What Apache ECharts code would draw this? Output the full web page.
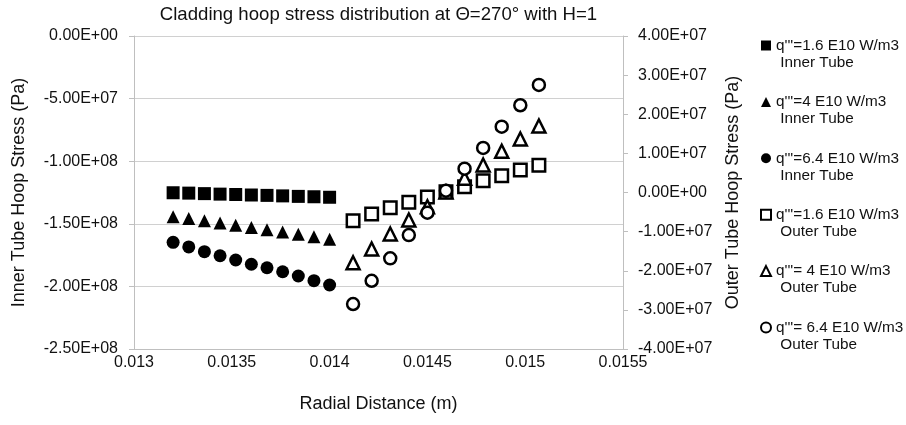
<!DOCTYPE html>
<html>
<head>
<meta charset="utf-8">
<script src="https://cdn.jsdelivr.net/npm/echarts@6/dist/echarts.min.js"></script>
<style>
html,body{margin:0;padding:0;background:#fff;}
#chart{width:906px;height:425px;}
</style>
</head>
<body>
<div id="chart"></div>
<script>
// ---- data ----
const innerX = [0.0132, 0.01328, 0.01336, 0.01344, 0.01352, 0.0136, 0.01368, 0.01376, 0.01384, 0.01392, 0.014];
const outerX = [0.01412, 0.014215, 0.01431, 0.014405, 0.0145, 0.014595, 0.01469, 0.014785, 0.01488, 0.014975, 0.01507];
const inner16 = [-1.252e8, -1.255e8, -1.259e8, -1.263e8, -1.266e8, -1.270e8, -1.273e8, -1.277e8, -1.281e8, -1.284e8, -1.288e8];
const inner4 = [-1.443e8, -1.458e8, -1.475e8, -1.494e8, -1.512e8, -1.530e8, -1.547e8, -1.565e8, -1.584e8, -1.603e8, -1.624e8];
const inner64 = [-1.648e8, -1.685e8, -1.723e8, -1.755e8, -1.789e8, -1.823e8, -1.851e8, -1.883e8, -1.917e8, -1.954e8, -1.989e8];
const outer16 = [-0.72e7, -0.552e7, -0.389e7, -0.251e7, -0.115e7, 0.02e7, 0.148e7, 0.302e7, 0.43e7, 0.575e7, 0.695e7];
const outer4 = [-1.795e7, -1.445e7, -1.06e7, -0.703e7, -0.363e7, 0.013e7, 0.363e7, 0.703e7, 1.054e7, 1.368e7, 1.70e7];
const outer64 = [-2.85e7, -2.256e7, -1.683e7, -1.087e7, -0.517e7, 0.046e7, 0.609e7, 1.138e7, 1.683e7, 2.23e7, 2.749e7];
const seriesNames = [
  "q'''=1.6 E10 W/m3\n Inner Tube",
  "q'''=4 E10 W/m3\n Inner Tube",
  "q'''=6.4 E10 W/m3\n Inner Tube",
  "q'''=1.6 E10 W/m3\n Outer Tube",
  "q'''= 4 E10 W/m3\n Outer Tube",
  "q'''= 6.4 E10 W/m3\n Outer Tube"
];
const titleText = 'Cladding hoop stress distribution at \u0398=270\u00b0 with H=1';
const xName = 'Radial Distance (m)';
const yLeftName = 'Inner Tube Hoop Stress (Pa)';
const yRightName = 'Outer Tube Hoop Stress (Pa)';

const FONT = '"Liberation Sans", Arial, sans-serif';
const TXT = '#111';
const AXIS = '#bfbfbf';

function fmtE(v) {
  const s = Number(v).toExponential(2);
  const parts = s.split('e');
  const n = parseInt(parts[1], 10);
  return parts[0] + 'E' + (n < 0 ? '-' : '+') + String(Math.abs(n)).padStart(2, '0');
}
function pairs(xs, ys) { return xs.map((x, i) => [x, ys[i]]); }

const filled = { color: '#000', opacity: 1 };
const hollow = { color: '#fff', borderColor: '#000', borderWidth: 2.5, opacity: 1 };

const chart = echarts.init(document.getElementById('chart'), null, { renderer: 'canvas' });
chart.setOption({
  animation: false,
  backgroundColor: '#fff',
  textStyle: { fontFamily: FONT },
  title: {
    text: titleText,
    left: 378.5,
    textAlign: 'center',
    top: 5,
    padding: 0,
    textStyle: { fontFamily: FONT, fontSize: 18.6, fontWeight: 'normal', color: TXT }
  },
  grid: { left: 134, right: 283, top: 36, bottom: 76, containLabel: false },
  legend: {
    orient: 'vertical',
    left: 760,
    top: 20,
    padding: 0,
    itemGap: 5.4,
    itemWidth: 10,
    itemHeight: 10,
    data: seriesNames,
    formatter: name => '\n' + name,
    textStyle: { fontFamily: FONT, fontSize: 15.3, lineHeight: 17, color: TXT }
  },
  xAxis: {
    type: 'value',
    min: 0.013, max: 0.0155, interval: 0.0005,
    name: xName, nameLocation: 'middle', nameGap: 46,
    nameTextStyle: { fontFamily: FONT, fontSize: 18, color: TXT },
    axisLine: { show: true, onZero: false, lineStyle: { color: AXIS, width: 1 } },
    axisTick: { show: false },
    splitLine: { show: false },
    axisLabel: { margin: 6, fontFamily: FONT, fontSize: 16, color: TXT,
      formatter: v => String(+Number(v).toFixed(5)) }
  },
  yAxis: [
    {
      type: 'value', position: 'left',
      min: -2.5e8, max: 0, interval: 5e7,
      name: yLeftName, nameLocation: 'middle', nameGap: 106,
      nameTextStyle: { fontFamily: FONT, fontSize: 18, color: TXT },
      axisLine: { show: true, onZero: false, lineStyle: { color: AXIS, width: 1 } },
      axisTick: { show: true, length: 5, lineStyle: { color: AXIS } },
      splitLine: { show: true, lineStyle: { color: '#d0d0d0', width: 1 } },
      axisLabel: { margin: 16, fontFamily: FONT, fontSize: 16, color: TXT, formatter: fmtE }
    },
    {
      type: 'value', position: 'right',
      min: -4e7, max: 4e7, interval: 1e7,
      name: yRightName, nameLocation: 'middle', nameGap: 101,
      nameTextStyle: { fontFamily: FONT, fontSize: 18, color: TXT },
      axisLine: { show: true, onZero: false, lineStyle: { color: AXIS, width: 1 } },
      axisTick: { show: true, length: 5, lineStyle: { color: AXIS } },
      splitLine: { show: false },
      axisLabel: { margin: 15, fontFamily: FONT, fontSize: 16, color: TXT, formatter: fmtE }
    }
  ],
  series: [
    { name: seriesNames[0], type: 'scatter', yAxisIndex: 0, symbol: 'rect', symbolSize: 13, itemStyle: filled, data: pairs(innerX, inner16) },
    { name: seriesNames[1], type: 'scatter', yAxisIndex: 0, symbol: 'triangle', symbolSize: 13, itemStyle: filled, data: pairs(innerX, inner4) },
    { name: seriesNames[2], type: 'scatter', yAxisIndex: 0, symbol: 'circle', symbolSize: 13, itemStyle: filled, data: pairs(innerX, inner64) },
    { name: seriesNames[3], type: 'scatter', yAxisIndex: 1, symbol: 'rect', symbolSize: 12.5, itemStyle: hollow, data: pairs(outerX, outer16) },
    { name: seriesNames[4], type: 'scatter', yAxisIndex: 1, symbol: 'triangle', symbolSize: 13, itemStyle: hollow, data: pairs(outerX, outer4) },
    { name: seriesNames[5], type: 'scatter', yAxisIndex: 1, symbol: 'circle', symbolSize: 12, itemStyle: hollow, data: pairs(outerX, outer64) }
  ]
});
</script>
</body>
</html>
